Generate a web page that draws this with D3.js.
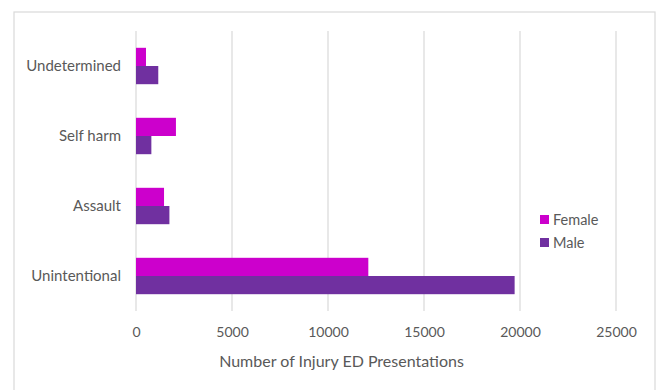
<!DOCTYPE html>
<html>
<head>
<meta charset="utf-8">
<script src="https://cdn.jsdelivr.net/npm/d3@7/dist/d3.min.js"></script>
<style>
  body { margin: 0; background: #fff; }
  text { font-family: Lato, "Open Sans", sans-serif; fill: #595959; }
</style>
</head>
<body>
<div id="chart"></div>
<script>
var categories = ["Undetermined", "Self harm", "Assault", "Unintentional"];
var seriesNames = ["Female", "Male"];
var femaleValues = [520, 2080, 1460, 12100];
var maleValues = [1160, 800, 1740, 19720];
var xTicks = [0, 5000, 10000, 15000, 20000, 25000];
var colors = { Female: "#cc00cc", Male: "#7030a0" };

var width = 659, height = 390;
var margin = { top: 31, right: 43, bottom: 79, left: 136 };
var plotW = 616 - margin.left, plotH = height - margin.top - margin.bottom;

var svg = d3.select("#chart").append("svg")
    .attr("width", width)
    .attr("height", height);

// chart border
svg.append("rect")
    .attr("x", 14).attr("y", 12)
    .attr("width", 641).attr("height", 400)
    .attr("fill", "none")
    .attr("stroke", "#d9d9d9")
    .attr("stroke-width", 1.2);

var g = svg.append("g").attr("transform", "translate(" + margin.left + "," + margin.top + ")");

var x = d3.scaleLinear().domain([0, 25000]).range([0, plotW]);
var y = d3.scaleBand().domain(categories).range([0, plotH]).paddingInner(0.48).paddingOuter(0.24);
var y1 = d3.scaleBand().domain(seriesNames).range([0, y.bandwidth()]);

// gridlines
g.selectAll(".grid").data(xTicks).enter().append("line")
    .attr("x1", function(d) { return x(d); })
    .attr("x2", function(d) { return x(d); })
    .attr("y1", 0).attr("y2", plotH)
    .attr("stroke", "#d9d9d9")
    .attr("stroke-width", 1.2);

var rows = categories.map(function(c, i) {
    return { cat: c, vals: [
        { s: "Female", v: femaleValues[i] },
        { s: "Male", v: maleValues[i] }
    ]};
});

var grp = g.selectAll(".cat").data(rows).enter().append("g")
    .attr("transform", function(d) { return "translate(0," + y(d.cat) + ")"; });

grp.selectAll("rect").data(function(d) { return d.vals; }).enter().append("rect")
    .attr("x", x(0))
    .attr("y", function(d) { return y1(d.s); })
    .attr("width", function(d) { return x(d.v) - x(0); })
    .attr("height", y1.bandwidth())
    .attr("fill", function(d) { return colors[d.s]; });

// x axis
var xAxis = d3.axisBottom(x).tickValues(xTicks).tickSize(0).tickPadding(16)
    .tickFormat(d3.format("d"));
var xa = g.append("g").attr("transform", "translate(0," + plotH + ")").call(xAxis);
xa.select(".domain").remove();
xa.selectAll("text").attr("font-size", 14).style("font-family", "Lato, sans-serif").attr("fill", "#595959");

// y axis
var yAxis = d3.axisLeft(y).tickSize(0).tickPadding(15);
var ya = g.append("g").call(yAxis);
ya.select(".domain").remove();
ya.selectAll("text").attr("font-size", 15).style("font-family", "Lato, sans-serif").attr("fill", "#595959");

// axis title
svg.append("text")
    .attr("x", 341.5)
    .attr("y", 367)
    .attr("text-anchor", "middle")
    .attr("font-size", 16)
    .text("Number of Injury ED Presentations");

// legend
var legend = svg.selectAll(".legend").data(seriesNames).enter().append("g")
    .attr("transform", function(d, i) { return "translate(540," + (215 + i * 23) + ")"; });
legend.append("rect")
    .attr("width", 9).attr("height", 9)
    .attr("fill", function(d) { return colors[d]; });
legend.append("text")
    .attr("x", 13).attr("y", 10)
    .attr("font-size", 14.5)
    .text(function(d) { return d; });
</script>
</body>
</html>
